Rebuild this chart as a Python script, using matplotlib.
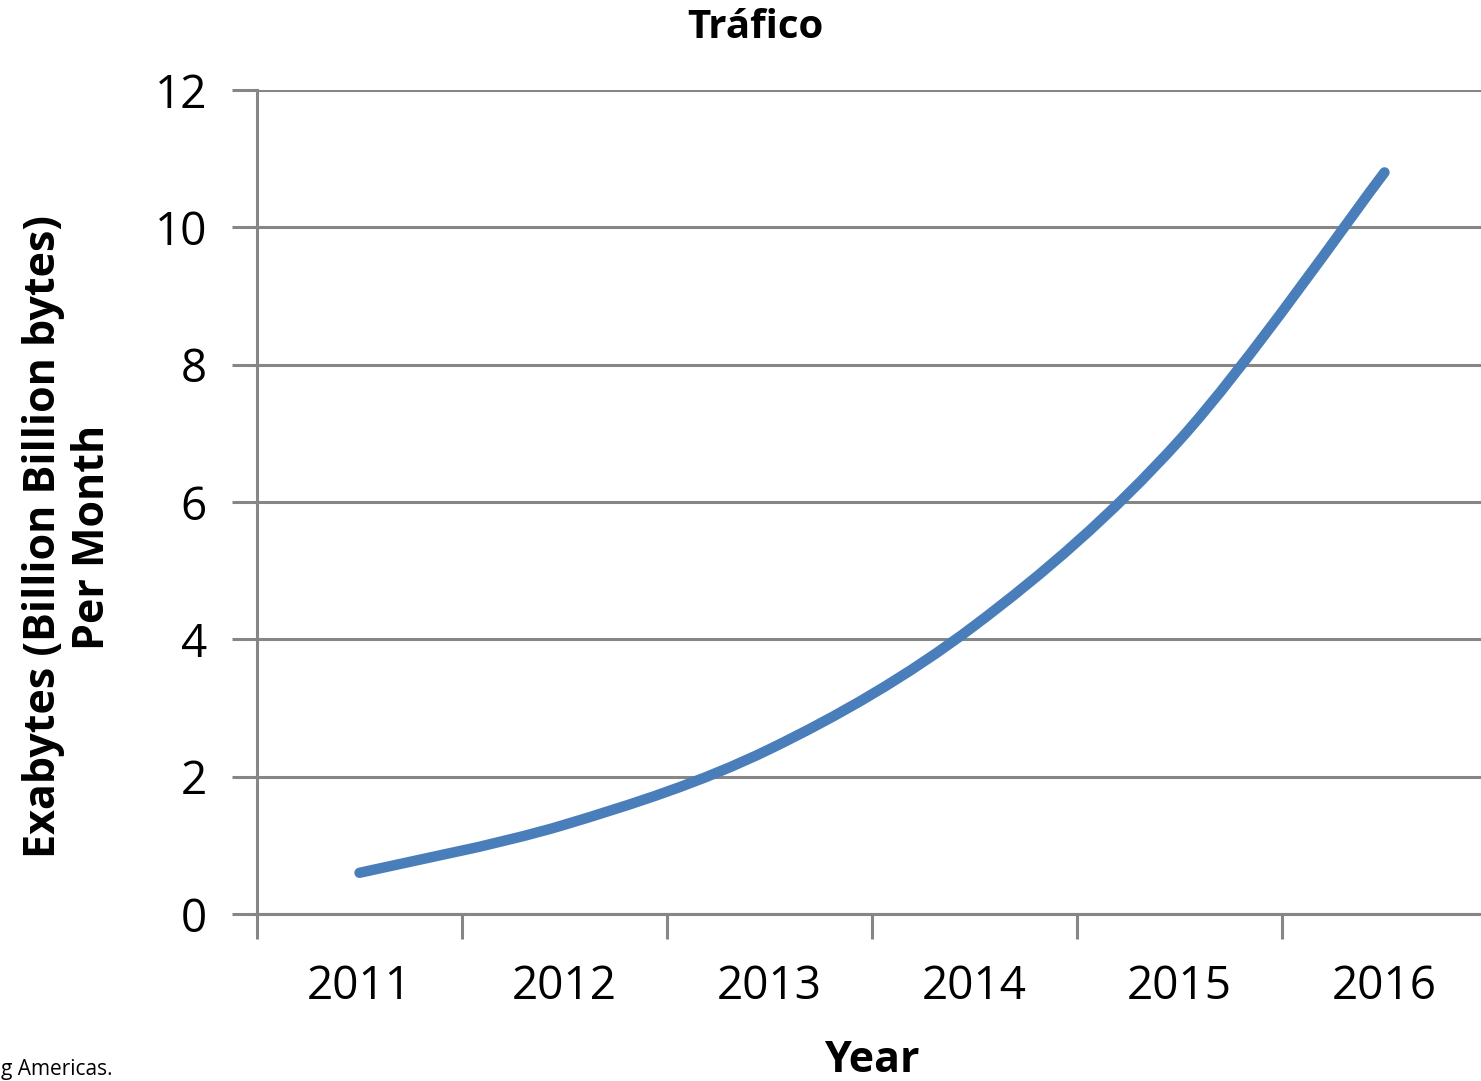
import matplotlib.pyplot as plt
from matplotlib.path import Path
from matplotlib.patches import PathPatch

# data
years = ['2011', '2012', '2013', '2014', '2015', '2016']
traffic = [0.6, 1.3, 2.4, 4.2, 6.9, 10.8]
y_ticks = [0, 2, 4, 6, 8, 10, 12]

plt.rcParams['font.family'] = ['Open Sans', 'DejaVu Sans']

fig = plt.figure(figsize=(14.81, 10.81), dpi=100)
ax = fig.add_axes([257 / 1481, 1 - 914 / 1081, 1230 / 1481, 824 / 1081])

grey = '#868686'
ax.set_xlim(-0.5, len(years) - 0.5)
ax.set_ylim(0, 12)
ax.set_yticks(y_ticks)
ax.set_xticks([i for i in range(len(years))])
ax.set_xticklabels(years)
ax.set_xticks([i - 0.5 for i in range(len(years) + 1)], minor=True)
ax.tick_params(axis='x', which='major', length=0, pad=36, labelsize=33)
ax.tick_params(axis='x', which='minor', length=18, width=2.2, color=grey, direction='out')
ax.tick_params(axis='y', length=18, width=2.2, color=grey, direction='out', pad=18, labelsize=33)

for s in ['top', 'right']:
    ax.spines[s].set_visible(False)
for s in ['left', 'bottom']:
    ax.spines[s].set_color(grey)
    ax.spines[s].set_linewidth(2.2)

ax.grid(axis='y', color=grey, linewidth=2.2)
ax.set_axisbelow(True)

# smoothed line (Excel style bezier through the data points)
pts = [(i, v) for i, v in enumerate(traffic)]
verts = [pts[0]]
codes = [Path.MOVETO]
n = len(pts)
for i in range(n - 1):
    p0 = pts[max(i - 1, 0)]
    p1 = pts[i]
    p2 = pts[i + 1]
    p3 = pts[min(i + 2, n - 1)]
    c1 = (p1[0] + (p2[0] - p0[0]) / 6, p1[1] + (p2[1] - p0[1]) / 6)
    c2 = (p2[0] - (p3[0] - p1[0]) / 6, p2[1] - (p3[1] - p1[1]) / 6)
    verts += [c1, c2, p2]
    codes += [Path.CURVE4] * 3
patch = PathPatch(Path(verts, codes), facecolor='none', edgecolor='#4a7ebb',
                  linewidth=7.5, capstyle='round', joinstyle='round', zorder=3)
ax.add_patch(patch)

fig.text(755 / 1481, 1 - 28 / 1081, 'Tráfico', ha='center', va='center',
         fontsize=29, fontweight='bold')
fig.text(872 / 1481, 1 - 1060 / 1081, 'Year', ha='center', va='center',
         fontsize=31, fontweight='bold')
fig.text(68 / 1481, 1 - 537 / 1081, 'Exabytes (Billion Billion bytes)\nPer Month',
         ha='center', va='center', rotation=90, fontsize=31, fontweight='bold',
         linespacing=1.2)
fig.text(1 / 1481, 1 - 1070 / 1081, 'g Americas.', ha='left', va='center',
         fontsize=15)

fig.savefig('out.png', dpi=100)
